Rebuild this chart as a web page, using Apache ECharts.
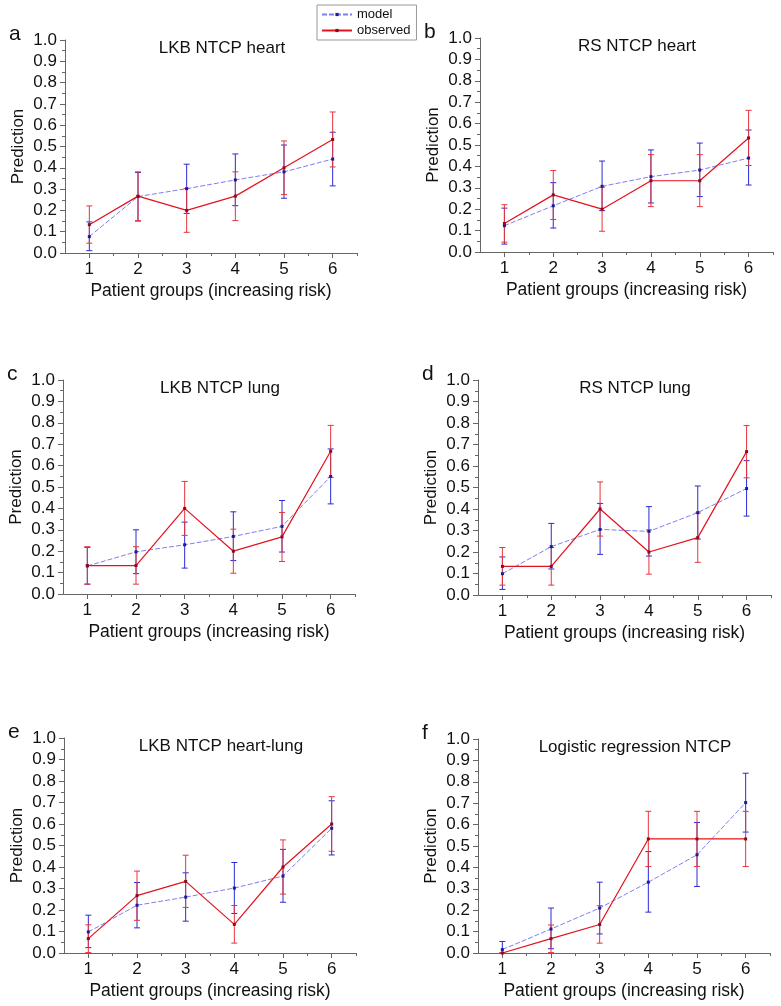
<!DOCTYPE html>
<html>
<head>
<meta charset="utf-8">
<script src="https://cdn.jsdelivr.net/npm/echarts@6/dist/echarts.min.js"></script>
<style>
  html, body { margin: 0; padding: 0; background: #fff; }
  #chart { width: 781px; height: 1006px; }
</style>
</head>
<body>
<div id="chart"></div>
<script>
// patient groups
const groups = [1, 2, 3, 4, 5, 6];
const panelLetters = ['a', 'b', 'c', 'd', 'e', 'f'];
const panelTitles = ['LKB NTCP heart', 'RS NTCP heart', 'LKB NTCP lung', 'RS NTCP lung', 'LKB NTCP heart-lung', 'Logistic regression NTCP'];

// model prediction (one row per panel a..f)
const model = [
  [0.077, 0.265, 0.302, 0.343, 0.381, 0.441],
  [0.123, 0.216, 0.307, 0.352, 0.383, 0.439],
  [0.131, 0.197, 0.230, 0.269, 0.316, 0.549],
  [0.099, 0.225, 0.305, 0.296, 0.383, 0.495],
  [0.098, 0.222, 0.260, 0.302, 0.358, 0.580],
  [0.016, 0.112, 0.210, 0.331, 0.459, 0.703]
];
const modelLo = [
  [0.011, 0.150, 0.186, 0.222, 0.257, 0.315],
  [0.037, 0.112, 0.193, 0.229, 0.259, 0.313],
  [0.046, 0.095, 0.121, 0.156, 0.196, 0.421],
  [0.026, 0.121, 0.189, 0.181, 0.260, 0.367],
  [0.025, 0.117, 0.148, 0.184, 0.236, 0.456],
  [0.000, 0.020, 0.089, 0.191, 0.311, 0.565]
];
const modelHi = [
  [0.146, 0.378, 0.417, 0.465, 0.507, 0.567],
  [0.205, 0.324, 0.425, 0.477, 0.509, 0.570],
  [0.218, 0.300, 0.336, 0.384, 0.437, 0.678],
  [0.177, 0.333, 0.426, 0.411, 0.507, 0.625],
  [0.176, 0.328, 0.373, 0.421, 0.482, 0.708],
  [0.054, 0.210, 0.331, 0.474, 0.610, 0.840]
];

// observed rate
const observed = [
  [0.133, 0.267, 0.200, 0.267, 0.400, 0.533],
  [0.133, 0.267, 0.200, 0.333, 0.333, 0.533],
  [0.133, 0.133, 0.400, 0.200, 0.267, 0.667],
  [0.133, 0.133, 0.400, 0.200, 0.267, 0.667],
  [0.067, 0.267, 0.333, 0.133, 0.400, 0.600],
  [0.000, 0.067, 0.133, 0.533, 0.533, 0.533]
];
const observedLo = [
  [0.046, 0.152, 0.097, 0.152, 0.274, 0.404],
  [0.046, 0.152, 0.097, 0.212, 0.212, 0.404],
  [0.046, 0.046, 0.274, 0.097, 0.152, 0.545],
  [0.046, 0.046, 0.274, 0.097, 0.152, 0.545],
  [0.002, 0.152, 0.212, 0.046, 0.274, 0.473],
  [0.000, 0.002, 0.046, 0.404, 0.404, 0.404]
];
const observedHi = [
  [0.221, 0.381, 0.303, 0.381, 0.526, 0.662],
  [0.221, 0.381, 0.303, 0.455, 0.455, 0.662],
  [0.221, 0.221, 0.526, 0.303, 0.381, 0.788],
  [0.221, 0.221, 0.526, 0.303, 0.381, 0.788],
  [0.131, 0.381, 0.455, 0.221, 0.526, 0.727],
  [0.000, 0.131, 0.221, 0.662, 0.662, 0.662]
];

// panel layout (px)
const boxes = [
  { left: 65, top: 40, width: 292, height: 213 },
  { left: 480, top: 38, width: 293, height: 214 },
  { left: 63, top: 380, width: 292, height: 214 },
  { left: 478, top: 380, width: 293, height: 215 },
  { left: 64, top: 738, width: 292, height: 215 },
  { left: 478, top: 739, width: 292, height: 214 }
];

const FONT = 'Liberation Sans, Arial, sans-serif';
const axisGrey = '#666';
const modelLine = '#7f7ff0';
const modelDot = '#1a1a9a';
const modelBar = '#2a2ad6';
const obsLine = '#e3121c';
const obsDot = '#8a0a20';
const obsBar = '#e8343c';

function errorBar(color) {
  return function (params, api) {
    const x = api.value(0);
    const lo = api.coord([x, api.value(1)]);
    const hi = api.coord([x, api.value(2)]);
    const w = 3;
    const st = { stroke: color, lineWidth: 1 };
    return {
      type: 'group',
      children: [
        { type: 'line', shape: { x1: lo[0], y1: lo[1], x2: hi[0], y2: hi[1] }, style: st },
        { type: 'line', shape: { x1: lo[0] - w, y1: lo[1], x2: lo[0] + w, y2: lo[1] }, style: st },
        { type: 'line', shape: { x1: hi[0] - w, y1: hi[1], x2: hi[0] + w, y2: hi[1] }, style: st }
      ]
    };
  };
}

const grid = [], xAxis = [], yAxis = [], series = [], graphic = [];

boxes.forEach(function (b, i) {
  grid.push(Object.assign({ containLabel: false }, b));
  // main x axis, ticks at the groups
  xAxis.push({
    gridIndex: i, type: 'value', min: 0.5, max: 6.5,
    name: 'Patient groups (increasing risk)', nameLocation: 'middle', nameGap: 29,
    nameTextStyle: { fontFamily: FONT, fontSize: 17.5, color: '#111' },
    axisLine: { lineStyle: { color: axisGrey, width: 1 } },
    axisTick: { show: true, length: 5, customValues: groups, lineStyle: { color: axisGrey } },
    axisLabel: { customValues: groups, margin: 8, fontFamily: FONT, fontSize: 17, color: '#111' },
    splitLine: { show: false }
  });
  yAxis.push({
    gridIndex: i, type: 'value', min: 0, max: 1, interval: 0.1,
    name: 'Prediction', nameLocation: 'middle', nameGap: 38, nameRotate: 90,
    nameTextStyle: { fontFamily: FONT, fontSize: 17, color: '#111' },
    axisLine: { show: true, lineStyle: { color: axisGrey, width: 1 } },
    axisTick: { show: true, length: 5, lineStyle: { color: axisGrey } },
    minorTick: { show: true, splitNumber: 2, length: 3, lineStyle: { color: axisGrey } },
    axisLabel: { margin: 8, fontFamily: FONT, fontSize: 17, color: '#111',
      formatter: function (v) { return v.toFixed(1); } },
    splitLine: { show: false }
  });
  // second x axis on the same grid for the half-way minor ticks
  xAxis.push({
    gridIndex: i, type: 'value', min: 0.5, max: 6.5, position: 'bottom',
    axisLine: { show: false },
    axisTick: { show: true, length: 3, customValues: [1.5, 2.5, 3.5, 4.5, 5.5, 6.5], lineStyle: { color: axisGrey } },
    axisLabel: { show: false }, splitLine: { show: false }
  });

  const mData = groups.map(function (g, k) { return [g, model[i][k]]; });
  const oData = groups.map(function (g, k) { return [g, observed[i][k]]; });
  const mErr = groups.map(function (g, k) { return [g, modelLo[i][k], modelHi[i][k]]; });
  const oErr = groups.map(function (g, k) { return [g, observedLo[i][k], observedHi[i][k]]; });

  series.push({
    type: 'custom', xAxisIndex: i * 2, yAxisIndex: i, renderItem: errorBar(modelBar),
    data: mErr, z: 2, silent: true
  });
  series.push({
    type: 'custom', xAxisIndex: i * 2, yAxisIndex: i, renderItem: errorBar(obsBar),
    data: oErr, z: 3, silent: true
  });
  series.push({
    name: 'model', type: 'line', xAxisIndex: i * 2, yAxisIndex: i, data: mData, z: 4,
    symbol: 'rect', symbolSize: 3,
    itemStyle: { color: modelDot },
    lineStyle: { color: modelLine, width: 1, type: [5, 2] }
  });
  series.push({
    name: 'observed', type: 'line', xAxisIndex: i * 2, yAxisIndex: i, data: oData, z: 5,
    symbol: 'rect', symbolSize: 3,
    itemStyle: { color: obsDot },
    lineStyle: { color: obsLine, width: 1.2 }
  });

  graphic.push({
    type: 'text', left: b.left - 56, top: b.top - 16,
    style: { text: panelLetters[i], font: '21px ' + FONT, fill: '#111' }
  });
  graphic.push({
    type: 'text', x: b.left + 157, y: b.top + 8,
    style: { text: panelTitles[i], font: '17px ' + FONT, fill: '#111', textAlign: 'center', textVerticalAlign: 'middle' }
  });
});

const chart = echarts.init(document.getElementById('chart'), null, { renderer: 'canvas' });
chart.setOption({
  animation: false,
  backgroundColor: '#fff',
  legend: {
    data: ['model', 'observed'], orient: 'vertical', left: 317, top: 5,
    itemWidth: 30, itemHeight: 4, itemGap: 3, padding: [3, 6, 3, 4],
    borderColor: '#999', borderWidth: 1,
    textStyle: { fontFamily: FONT, fontSize: 13, color: '#111' }
  },
  grid: grid,
  xAxis: xAxis,
  yAxis: yAxis,
  series: series,
  graphic: graphic
});
</script>
</body>
</html>
